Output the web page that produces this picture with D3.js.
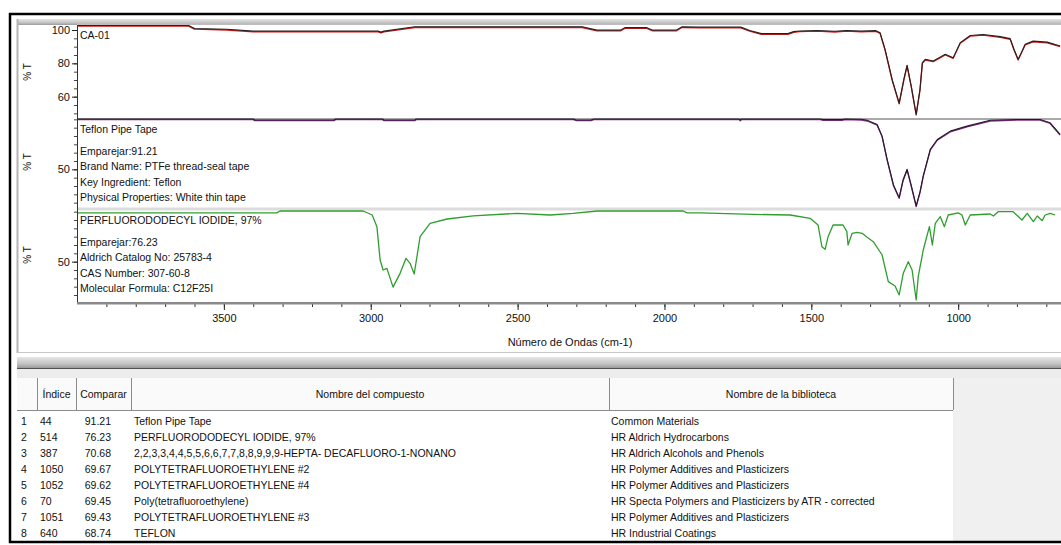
<!DOCTYPE html>
<html>
<head>
<meta charset="utf-8">
<title>IR Search Result</title>
<script src="https://cdn.jsdelivr.net/npm/d3@7/dist/d3.min.js"></script>
<style>
  body { margin: 0; background: #fff; }
  svg { display: block; font-family: "Liberation Sans", Arial, sans-serif; }
</style>
</head>
<body>
<script>
// spectra: [wavenumber, %T]
var caSpectrum = [
  [4000, 102.3], [3620, 102.3], [3600, 100.5], [3490, 100], [3400, 98.9], [3130, 98.9],
  [2975, 98.9], [2965, 98.3], [2955, 98.9], [2850, 101.5], [2280, 101.5], [2230, 99.5],
  [2150, 99.5], [2135, 101], [2060, 101], [2040, 99.5], [1960, 99.5], [1940, 101.5],
  [1880, 101.3], [1740, 101.3], [1710, 99.3], [1670, 97.4], [1580, 97.4], [1560, 98.6],
  [1540, 99], [1480, 99.3], [1420, 98.8], [1380, 99.3], [1330, 98.9], [1280, 99.2],
  [1266, 98], [1249, 88], [1225, 70], [1201, 55.7], [1185, 70], [1174, 78.4], [1160, 66],
  [1143, 49], [1130, 64], [1122, 80], [1112, 82], [1085, 81], [1065, 83], [1044, 85],
  [1017, 83], [993, 92], [959, 96.3], [915, 96.9], [857, 95.6], [823, 94.4], [810, 88],
  [796, 82], [785, 86], [772, 91], [745, 92.9], [697, 92.3], [653, 90]
];
var teflonSpectrum = [
  [4000, 79.8], [3400, 79.8], [3395, 79.2], [3125, 79.2], [3120, 79.8], [2960, 79.8],
  [2955, 79.2], [2850, 79.2], [2845, 79.8], [2310, 79.8], [2300, 79.2], [2250, 79.2],
  [2240, 79.8], [1745, 79.8], [1742, 79.1], [1738, 79.8], [1470, 79.8], [1460, 79.4],
  [1395, 79.4], [1385, 79.8], [1330, 79.6], [1310, 79], [1276, 76.5], [1259, 69.5],
  [1242, 55.6], [1220, 40], [1201, 32.6], [1188, 43], [1174, 49.6], [1160, 40], [1143, 27.6],
  [1130, 36], [1119, 45.6], [1095, 61.6], [1071, 67.5], [1027, 72.5], [970, 75.5],
  [891, 79], [799, 79.5], [721, 79.5], [687, 77.5], [653, 70.5]
];
var perfluoroSpectrum = [
  [4000, 79.3], [3445, 79.3], [3320, 79.3], [3309, 80.4], [3026, 80.4], [2995, 78],
  [2979, 71], [2968, 51], [2958, 45], [2945, 46], [2924, 34.7], [2900, 43], [2880, 52],
  [2866, 49], [2852, 42.6], [2832, 65], [2798, 73], [2740, 75.6], [2651, 77.5],
  [2502, 79], [2389, 78], [2311, 79], [2229, 80.4], [1936, 80.4], [1923, 79.3],
  [1879, 79.3], [1698, 78.4], [1572, 78], [1504, 76], [1477, 72], [1464, 59], [1453, 57.4],
  [1443, 65], [1426, 72], [1392, 72], [1379, 68], [1375, 60], [1361, 67], [1344, 67.6],
  [1327, 67], [1310, 64.6], [1289, 62], [1259, 54], [1238, 38], [1215, 35.4], [1201, 30],
  [1187, 43], [1170, 50], [1157, 45], [1143, 27], [1136, 41], [1119, 57], [1098, 71],
  [1088, 60], [1078, 73], [1061, 77], [1047, 71], [1034, 78], [1000, 79.3], [987, 78],
  [976, 72], [959, 78], [891, 78.6], [880, 77.4], [864, 80], [813, 80], [783, 75],
  [765, 79], [744, 74], [731, 77.4], [714, 74.6], [704, 78], [687, 79], [670, 78]
];

var wavenumberTicks = [3500, 3000, 2500, 2000, 1500, 1000];
var caLabels = ["CA-01"];
var teflonLabels = ["Teflon Pipe Tape", "Emparejar:91.21", "Brand Name:  PTFe thread-seal tape",
  "Key Ingredient:  Teflon", "Physical Properties:  White thin tape"];
var perfluoroLabels = ["PERFLUORODODECYL IODIDE, 97%", "Emparejar:76.23", "Aldrich Catalog No:  25783-4",
  "CAS Number:  307-60-8", "Molecular Formula:  C12F25I"];

// hit list
var hitIndex = [44, 514, 387, 1050, 1052, 70, 1051, 640];
var hitScore = [91.21, 76.23, 70.68, 69.67, 69.62, 69.45, 69.43, 68.74];
var compoundNames = ["Teflon Pipe Tape", "PERFLUORODODECYL IODIDE, 97%",
  "2,2,3,3,4,4,5,5,6,6,7,7,8,8,9,9,9-HEPTA- DECAFLUORO-1-NONANO",
  "POLYTETRAFLUOROETHYLENE #2", "POLYTETRAFLUOROETHYLENE #4", "Poly(tetrafluoroethylene)",
  "POLYTETRAFLUOROETHYLENE #3", "TEFLON"];
var libraryNames = ["Common Materials", "HR Aldrich Hydrocarbons", "HR Aldrich Alcohols and Phenols",
  "HR Polymer Additives and Plasticizers", "HR Polymer Additives and Plasticizers",
  "HR Specta Polymers and Plasticizers by ATR - corrected", "HR Polymer Additives and Plasticizers",
  "HR Industrial Coatings"];
var tableHeaders = ["", "Índice", "Comparar", "Nombre del compuesto", "Nombre de la biblioteca"];

var W = 1061, H = 545;
var svg = d3.select("body").append("svg").attr("width", W).attr("height", H);

var defs = svg.append("defs");
var g1 = defs.append("linearGradient").attr("id", "band").attr("x1", 0).attr("x2", 0).attr("y1", 0).attr("y2", 1);
g1.append("stop").attr("offset", "0%").attr("stop-color", "#e6e6e6");
g1.append("stop").attr("offset", "60%").attr("stop-color", "#c4c4c4");
g1.append("stop").attr("offset", "100%").attr("stop-color", "#9a9a9a");
defs.append("clipPath").attr("id", "plotclip").append("rect")
  .attr("x", 77).attr("y", 24).attr("width", W - 77).attr("height", 280);

// window chrome
svg.append("rect").attr("x", 17).attr("y", 19).attr("width", W).attr("height", 6).attr("fill", "url(#band)");
svg.append("line").attr("x1", 17.5).attr("x2", 17.5).attr("y1", 19).attr("y2", 353)
  .attr("stroke", "#b4b4b4").attr("stroke-width", 2);
svg.append("line").attr("x1", 17).attr("x2", W).attr("y1", 352.5).attr("y2", 352.5)
  .attr("stroke", "#c8c8c8");
svg.append("rect").attr("x", 17).attr("y", 357).attr("width", W).attr("height", 11).attr("fill", "url(#band)");
svg.append("line").attr("x1", 17).attr("x2", W).attr("y1", 368.5).attr("y2", 368.5).attr("stroke", "#505050");
svg.append("rect").attr("x", 17).attr("y", 369).attr("width", W).attr("height", 9).attr("fill", "#ececec");

var x = d3.scaleLinear().domain([4000, 650]).range([77, 1061]);

var panels = [
  { data: caSpectrum, domain: [46.6, 103], range: [119, 25], major: [60, 80, 100], labels: caLabels,
    colors: ["#d01818", "#262020"], labelY: 72 },
  { data: teflonSpectrum, domain: [26.2, 80.2], range: [209, 119], major: [50], labels: teflonLabels,
    colors: ["#8a2a8a", "#231c28"], labelY: 162 },
  { data: perfluoroSpectrum, domain: [25.2, 81], range: [303, 210], major: [50], labels: perfluoroLabels,
    colors: ["#2f9e2f", null], labelY: 255 }
];

var plot = svg.append("g");

panels.forEach(function (p, i) {
  var y = d3.scaleLinear().domain(p.domain).range(p.range);
  var line = d3.line().x(function (d) { return x(d[0]); }).y(function (d) { return y(d[1]); });
  var g = plot.append("g").attr("clip-path", "url(#plotclip)");
  g.append("path").datum(p.data).attr("d", line).attr("fill", "none")
    .attr("stroke", p.colors[0]).attr("stroke-width", 1.3).attr("stroke-linejoin", "round");
  if (p.colors[1]) {
    g.append("path").datum(p.data).attr("d", line).attr("fill", "none")
      .attr("transform", "translate(0,-0.7)")
      .attr("stroke", p.colors[1]).attr("stroke-width", 1.1).attr("stroke-linejoin", "round");
  }

  // left axis, major + minor
  var minor = d3.range(Math.ceil(p.domain[0] / 5) * 5, p.domain[1], 5);
  var ga = svg.append("g").attr("transform", "translate(77,0)")
    .call(d3.axisLeft(y).tickValues(minor).tickSize(3).tickFormat(""));
  ga.select(".domain").remove();
  ga.selectAll("line").attr("stroke", "#444");
  var gm = svg.append("g").attr("transform", "translate(77,0)")
    .call(d3.axisLeft(y).tickValues(p.major).tickSize(5).tickPadding(2).tickFormat(d3.format("d")));
  gm.select(".domain").remove();
  gm.selectAll("line").attr("stroke", "#222");
  gm.selectAll("text").attr("font-size", 11).attr("font-family", "Liberation Sans, Arial, sans-serif")
    .attr("fill", "#111");

  svg.append("text").attr("transform", "translate(31," + p.labelY + ") rotate(-90)")
    .attr("text-anchor", "middle").attr("font-size", 10).attr("fill", "#111").text("% T");

  // annotation block
  var t = svg.append("g").attr("font-size", 10.5).attr("fill", "#111");
  p.labels.forEach(function (s, k) {
    var yy = p.range[1] + 14 + (k === 0 ? 0 : 6 + k * 15.5);
    t.append("text").attr("x", 80).attr("y", yy).text(s);
  });
});

// panel separators
svg.append("line").attr("x1", 77).attr("x2", W).attr("y1", 119).attr("y2", 119)
  .attr("stroke", "#555").attr("stroke-width", 1.2).lower();
svg.append("rect").attr("x", 77).attr("y", 207.5).attr("width", W).attr("height", 3)
  .attr("fill", "#dcdcdc").lower();
svg.append("rect").attr("x", 77).attr("y", 23).attr("width", W).attr("height", 2)
  .attr("fill", "#bdbdbd");

// left axis line
svg.append("line").attr("x1", 77.5).attr("x2", 77.5).attr("y1", 25).attr("y2", 304)
  .attr("stroke", "#333").attr("stroke-width", 1);

// bottom axis
var minorX = d3.range(700, 4000, 100);
var gx = svg.append("g").attr("transform", "translate(0,303)")
  .call(d3.axisBottom(x).tickValues(minorX).tickSize(4).tickFormat(""));
gx.select(".domain").remove();
gx.selectAll("line").attr("stroke", "#333");
var gX = svg.append("g").attr("transform", "translate(0,303)")
  .call(d3.axisBottom(x).tickValues(wavenumberTicks).tickSize(7).tickPadding(4).tickFormat(d3.format("d")));
gX.select(".domain").remove();
gX.selectAll("line").attr("stroke", "#222");
gX.selectAll("text").attr("font-size", 11).attr("font-family", "Liberation Sans, Arial, sans-serif")
  .attr("fill", "#111");
svg.append("rect").attr("x", 77).attr("y", 302).attr("width", W).attr("height", 2.5).attr("fill", "#8a8a8a");

svg.append("text").attr("x", 570).attr("y", 346).attr("text-anchor", "middle")
  .attr("font-size", 11).attr("fill", "#111").text("Número de Ondas (cm-1)");

// hit table
var colEdges = [17, 37, 76, 131, 609, 953];
var headTop = 378, headBot = 410;
var table = svg.append("g").attr("font-size", 10.5).attr("fill", "#111");
table.append("rect").attr("x", 17).attr("y", headTop).attr("width", 936).attr("height", headBot - headTop)
  .attr("fill", "#fafafa");
table.append("rect").attr("x", 953).attr("y", headTop).attr("width", W).attr("height", 542 - headTop)
  .attr("fill", "#f0f0f0");
table.append("line").attr("x1", 17).attr("x2", 953).attr("y1", headBot + 0.5).attr("y2", headBot + 0.5)
  .attr("stroke", "#8c8c8c");
colEdges.slice(1).forEach(function (cx) {
  table.append("line").attr("x1", cx + 0.5).attr("x2", cx + 0.5).attr("y1", headTop).attr("y2", headBot)
    .attr("stroke", "#8c8c8c");
});
tableHeaders.forEach(function (h, i) {
  if (!h) return;
  table.append("text").attr("x", (colEdges[i] + colEdges[i + 1]) / 2).attr("y", 398)
    .attr("text-anchor", "middle").text(h);
});

var rowY = d3.scaleLinear().domain([0, 7]).range([425, 537]);
hitIndex.forEach(function (d, i) {
  var yy = rowY(i);
  table.append("text").attr("x", 21).attr("y", yy).text(i + 1);
  table.append("text").attr("x", 40).attr("y", yy).text(d);
  table.append("text").attr("x", 111).attr("y", yy).attr("text-anchor", "end").text(hitScore[i].toFixed(2));
  table.append("text").attr("x", 134).attr("y", yy).text(compoundNames[i]);
  table.append("text").attr("x", 611).attr("y", yy).text(libraryNames[i]);
});

// outer frame
svg.append("rect").attr("x", 10).attr("y", 14).attr("width", W + 10).attr("height", 528)
  .attr("fill", "none").attr("stroke", "#000").attr("stroke-width", 2.5);
</script>
</body>
</html>
